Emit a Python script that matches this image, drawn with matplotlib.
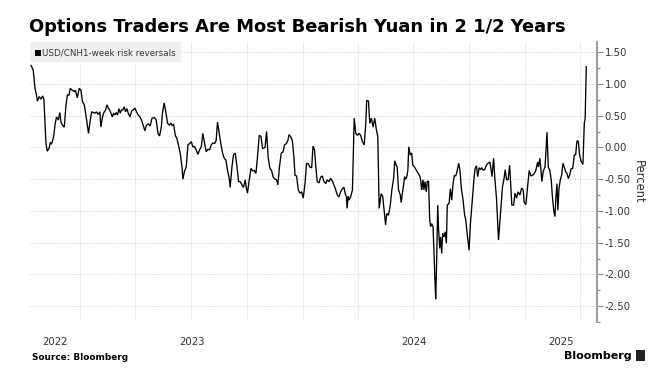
import numpy as np
import pandas as pd
import matplotlib
matplotlib.use("Agg")
import matplotlib.pyplot as plt
import matplotlib.dates as mdates
from matplotlib.patches import Rectangle

# time as decimal years, value in percent
t = [2022.777, 2022.787, 2022.795, 2022.802, 2022.806, 2022.814, 2022.822, 2022.829, 2022.835, 2022.840,
     2022.844, 2022.850, 2022.858, 2022.864, 2022.869, 2022.874, 2022.880, 2022.885, 2022.892, 2022.900,
     2022.907, 2022.912, 2022.919, 2022.927, 2022.934, 2022.941, 2022.948, 2022.954, 2022.963, 2022.972,
     2022.977, 2022.986, 2022.994, 2023.002, 2023.009, 2023.017, 2023.023, 2023.029, 2023.036, 2023.044,
     2023.050, 2023.057, 2023.065, 2023.072, 2023.080, 2023.087, 2023.092, 2023.098, 2023.104, 2023.113,
     2023.119, 2023.125, 2023.131, 2023.137, 2023.143, 2023.149, 2023.155, 2023.161, 2023.167, 2023.173,
     2023.179, 2023.185, 2023.191, 2023.197, 2023.203, 2023.209, 2023.215, 2023.223, 2023.230, 2023.237,
     2023.245, 2023.252, 2023.260, 2023.268, 2023.275, 2023.282, 2023.290, 2023.297, 2023.306, 2023.314,
     2023.322, 2023.333, 2023.341, 2023.349, 2023.356, 2023.364, 2023.369, 2023.377, 2023.385, 2023.392,
     2023.400, 2023.407, 2023.414, 2023.419, 2023.427, 2023.434, 2023.441, 2023.449, 2023.457, 2023.461,
     2023.468, 2023.476, 2023.484, 2023.491, 2023.499, 2023.506, 2023.514, 2023.521, 2023.529, 2023.536,
     2023.544, 2023.551, 2023.559, 2023.566, 2023.574, 2023.581, 2023.589, 2023.596, 2023.604, 2023.611,
     2023.617, 2023.625, 2023.632, 2023.640, 2023.647, 2023.655, 2023.662, 2023.670, 2023.674, 2023.682,
     2023.689, 2023.697, 2023.705, 2023.712, 2023.719, 2023.727, 2023.734, 2023.742, 2023.746, 2023.752,
     2023.760, 2023.768, 2023.775, 2023.782, 2023.790, 2023.797, 2023.805, 2023.813, 2023.820, 2023.831,
     2023.838, 2023.845, 2023.853, 2023.860, 2023.868, 2023.876, 2023.883, 2023.889, 2023.896, 2023.904,
     2023.912, 2023.919, 2023.927, 2023.934, 2023.939, 2023.946, 2023.954, 2023.961, 2023.966, 2023.973,
     2023.981, 2023.988, 2023.996, 2024.003, 2024.011, 2024.018, 2024.026, 2024.033, 2024.041, 2024.047,
     2024.054, 2024.059, 2024.066, 2024.074, 2024.081, 2024.089, 2024.096, 2024.104, 2024.111, 2024.119,
     2024.126, 2024.134, 2024.141, 2024.149, 2024.156, 2024.164, 2024.171, 2024.179, 2024.186, 2024.191,
     2024.197, 2024.200, 2024.205, 2024.209, 2024.216, 2024.224, 2024.232, 2024.239, 2024.246, 2024.254,
     2024.261, 2024.269, 2024.277, 2024.284, 2024.288, 2024.296, 2024.302, 2024.309, 2024.317, 2024.324,
     2024.332, 2024.338, 2024.344, 2024.353, 2024.360, 2024.368, 2024.373, 2024.378, 2024.386, 2024.394,
     2024.401, 2024.409, 2024.414, 2024.421, 2024.425, 2024.431, 2024.439, 2024.443, 2024.448, 2024.454,
     2024.458, 2024.463, 2024.468, 2024.473, 2024.477, 2024.484, 2024.490, 2024.495, 2024.503, 2024.511,
     2024.518, 2024.526, 2024.530, 2024.535, 2024.541, 2024.545, 2024.550, 2024.556, 2024.560, 2024.566,
     2024.571, 2024.575, 2024.580, 2024.586, 2024.590, 2024.595, 2024.598, 2024.602, 2024.607, 2024.611,
     2024.616, 2024.620, 2024.625, 2024.629, 2024.635, 2024.641, 2024.646, 2024.650, 2024.658, 2024.664,
     2024.670, 2024.676, 2024.682, 2024.688, 2024.695, 2024.701, 2024.707, 2024.714, 2024.721, 2024.728,
     2024.733, 2024.739, 2024.745, 2024.748, 2024.754, 2024.760, 2024.766, 2024.770, 2024.775, 2024.781,
     2024.787, 2024.793, 2024.799, 2024.805, 2024.811, 2024.818, 2024.826, 2024.833, 2024.841, 2024.845,
     2024.851, 2024.858, 2024.864, 2024.871, 2024.880, 2024.891, 2024.898, 2024.905, 2024.910, 2024.916,
     2024.923, 2024.930, 2024.936, 2024.940, 2024.948, 2024.954, 2024.961, 2024.968, 2024.976, 2024.984,
     2024.991, 2024.995, 2025.003, 2025.010, 2025.018, 2025.026, 2025.033, 2025.041, 2025.048, 2025.056,
     2025.060, 2025.066, 2025.071, 2025.075, 2025.081, 2025.089, 2025.093, 2025.098, 2025.104, 2025.111,
     2025.117, 2025.123, 2025.129, 2025.134, 2025.138, 2025.143, 2025.147, 2025.152, 2025.158, 2025.164,
     2025.170, 2025.176, 2025.182, 2025.188, 2025.194, 2025.200, 2025.206, 2025.214, 2025.221, 2025.227,
     2025.233, 2025.239, 2025.245, 2025.252, 2025.260, 2025.266, 2025.270, 2025.275]

rr = [1.29, 1.22, 0.93, 0.82, 0.73, 0.80, 0.76, 0.81, 0.77, 0.40,
      0.09, -0.06, -0.02, 0.08, 0.05, 0.10, 0.19, 0.35, 0.48, 0.43,
      0.55, 0.40, 0.35, 0.32, 0.64, 0.83, 0.82, 0.93, 0.90, 0.88,
      0.90, 0.78, 0.93, 0.90, 0.72, 0.67, 0.54, 0.40, 0.22, 0.43,
      0.56, 0.55, 0.54, 0.56, 0.52, 0.56, 0.32, 0.46, 0.54, 0.59,
      0.67, 0.62, 0.59, 0.54, 0.48, 0.54, 0.51, 0.55, 0.51, 0.61,
      0.54, 0.59, 0.59, 0.64, 0.56, 0.61, 0.54, 0.48, 0.57, 0.59,
      0.62, 0.56, 0.51, 0.48, 0.43, 0.35, 0.26, 0.35, 0.37, 0.34,
      0.46, 0.47, 0.43, 0.22, 0.18, 0.32, 0.54, 0.70, 0.54, 0.38,
      0.35, 0.38, 0.34, 0.37, 0.19, 0.14, 0.04, -0.09, -0.31, -0.50,
      -0.38, -0.31, 0.04, 0.06, 0.09, 0.01, 0.01, -0.04, -0.11, -0.04,
      0.01, 0.22, 0.06, -0.07, -0.03, -0.04, 0.04, 0.07, 0.06, 0.11,
      0.40, 0.22, 0.06, -0.09, -0.17, -0.20, -0.36, -0.49, -0.63, -0.31,
      -0.12, -0.09, -0.31, -0.54, -0.54, -0.59, -0.63, -0.51, -0.62, -0.72,
      -0.51, -0.33, -0.37, -0.36, -0.41, -0.15, 0.19, 0.17, -0.02, 0.00,
      0.25, -0.15, -0.33, -0.36, -0.47, -0.50, -0.51, -0.59, -0.31, -0.09,
      -0.07, 0.04, 0.06, 0.11, 0.20, 0.17, 0.11, -0.15, -0.44, -0.45,
      -0.67, -0.72, -0.70, -0.80, -0.57, -0.25, -0.26, -0.31, -0.32, 0.02,
      -0.04, -0.28, -0.54, -0.56, -0.47, -0.45, -0.54, -0.57, -0.51, -0.54,
      -0.49, -0.53, -0.59, -0.67, -0.75, -0.78, -0.70, -0.65, -0.63, -0.72,
      -0.78, -0.96, -0.77, -0.83, -0.78, -0.67, 0.46, 0.22, 0.19, 0.22,
      0.19, 0.09, 0.04, 0.38, 0.74, 0.73, 0.38, 0.46, 0.32, 0.46,
      0.27, 0.17, -0.96, -0.73, -0.77, -1.04, -1.22, -1.04, -1.07, -0.91,
      -0.67, -0.49, -0.21, -0.28, -0.31, -0.67, -0.75, -0.87, -0.73, -0.59,
      -0.46, -0.50, -0.47, -0.36, 0.01, -0.12, -0.09, -0.28, -0.31, -0.36,
      -0.40, -0.45, -0.50, -0.67, -0.51, -0.67, -0.54, -0.70, -0.54, -0.53,
      -1.14, -1.25, -1.20, -1.25, -1.62, -2.14, -2.39, -1.83, -0.91, -1.30,
      -1.59, -1.41, -1.67, -1.35, -1.41, -1.33, -1.51, -0.91, -0.88, -0.65,
      -0.83, -0.57, -0.44, -0.45, -0.36, -0.25, -0.36, -0.67, -0.83, -1.07,
      -1.14, -1.35, -1.54, -1.62, -1.20, -0.94, -0.67, -0.49, -0.33, -0.29,
      -0.46, -0.32, -0.35, -0.32, -0.36, -0.35, -0.28, -0.25, -0.23, -0.31,
      -0.46, -0.17, -0.51, -0.80, -1.46, -0.95, -0.62, -0.49, -0.35, -0.51,
      -0.51, -0.28, -0.65, -0.91, -0.91, -0.72, -0.80, -0.70, -0.75, -0.64,
      -0.67, -0.86, -0.90, -0.65, -0.36, -0.45, -0.44, -0.41, -0.36, -0.23,
      -0.31, -0.17, -0.36, -0.54, -0.38, -0.31, -0.09, 0.24, -0.31, -0.36,
      -0.51, -0.80, -1.01, -1.09, -0.80, -0.57, -0.99, -0.65, -0.51, -0.44,
      -0.25, -0.31, -0.38, -0.41, -0.49, -0.44, -0.34, -0.33, -0.12, -0.12,
      0.10, 0.10, -0.12, -0.22, -0.27, 0.38, 0.46, 1.27]

y_ticks = [1.5, 1.0, 0.5, 0.0, -0.5, -1.0, -1.5, -2.0, -2.5]
years = [2022, 2023, 2024, 2025]

title = "Options Traders Are Most Bearish Yuan in 2 1/2 Years"
series_name = "USD/CNH1-week risk reversals"


def to_date(x):
    yr = int(np.floor(x))
    start = pd.Timestamp(year=yr, month=1, day=1)
    ndays = (pd.Timestamp(year=yr + 1, month=1, day=1) - start).days
    return start + pd.Timedelta(days=(x - yr) * ndays)


dates = [to_date(v) for v in t]
x0 = pd.Timestamp("2022-10-10")
x1 = pd.Timestamp("2025-04-29")

fig = plt.figure(figsize=(6.6, 3.79), dpi=100)
ax = fig.add_axes([30 / 660, 1 - 322 / 379, (597 - 30) / 660, (322 - 42) / 379])

ax.plot(dates, rr, color="black", lw=0.95, solid_joinstyle="miter")

ax.set_xlim(x0, x1)
ax.set_ylim(-2.74, 1.66)

# y axis on the right
ax.yaxis.tick_right()
ax.set_yticks(y_ticks)
ax.set_yticks(np.arange(-2.75, 1.6, 0.25), minor=True)
ax.set_yticklabels([f"{v:.2f}" for v in y_ticks])
ax.tick_params(axis="y", which="major", length=4, width=0.8, color="#8a8a8a",
               labelsize=7.3, labelcolor="#333333", pad=1.5)
ax.tick_params(axis="y", which="minor", length=2.5, width=0.8, color="#8a8a8a")
for s in ["top", "left", "bottom"]:
    ax.spines[s].set_visible(False)
ax.spines["right"].set_color("#8a8a8a")
ax.spines["right"].set_linewidth(1.2)

ax.yaxis.set_label_position("right")
ax.set_ylabel("Percent", rotation=270, fontsize=8.3, color="#333333", labelpad=10)

# quarterly gridlines, year labels centred in the visible part of each year
ax.xaxis.set_major_locator(mdates.MonthLocator(bymonth=[1, 4, 7, 10]))
ax.xaxis.set_major_formatter(plt.NullFormatter())
label_pos = []
for yr in years:
    a = max(pd.Timestamp(year=yr, month=1, day=1), x0)
    b = min(pd.Timestamp(year=yr + 1, month=1, day=1), x1)
    label_pos.append(mdates.date2num(a + (b - a) / 2))
ax.set_xticks(label_pos, minor=True)
ax.set_xticklabels([str(y) for y in years], minor=True)
ax.tick_params(axis="x", which="both", length=0, labelsize=7.3, labelcolor="#333333", pad=10.5)

ax.grid(True, which="major", color="#d2d2d2", linestyle=(0, (1, 1.5)), linewidth=0.7)
ax.set_axisbelow(True)

# legend box
fig.patches.append(Rectangle((30 / 660, 1 - 62 / 379), 151 / 660, 20 / 379,
                             transform=fig.transFigure, facecolor="#f0f0f0",
                             edgecolor="none"))
fig.patches.append(Rectangle((35 / 660, 1 - 55.5 / 379), 5.5 / 660, 6 / 379,
                             transform=fig.transFigure, facecolor="black",
                             edgecolor="none"))
fig.text(42.5 / 660, 1 - 52.5 / 379, series_name, fontsize=6.3, color="#333333",
         va="center", ha="left")

fig.text(29 / 660, 1 - 27 / 379, title, fontsize=12.9, fontweight="bold",
         va="center", ha="left", color="black")
fig.text(32 / 660, 1 - 357 / 379, "Source: Bloomberg", fontsize=6.4,
         fontweight="bold", va="center", ha="left", color="black")
fig.text(632 / 660, 1 - 356 / 379, "Bloomberg", fontsize=8, fontweight="bold",
         va="center", ha="right", color="black")
fig.patches.append(Rectangle((636 / 660, 1 - 361 / 379), 9 / 660, 11 / 379,
                             transform=fig.transFigure, facecolor="#222222",
                             edgecolor="none"))

fig.savefig("out.png", dpi=100)
